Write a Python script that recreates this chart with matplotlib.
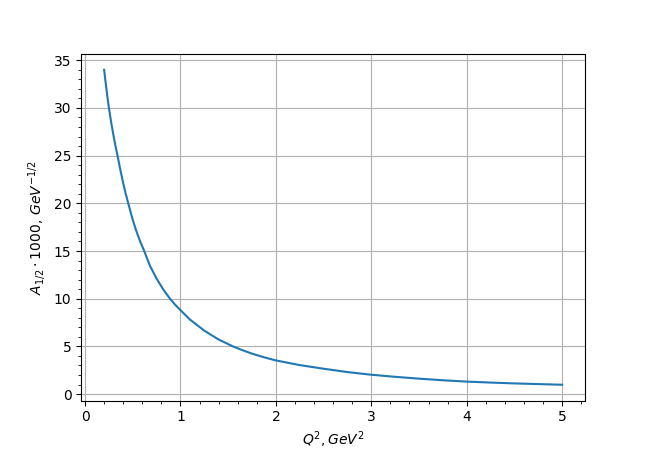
import matplotlib
matplotlib.use('Agg')
import matplotlib.pyplot as plt

# values
q2 = [0.2, 0.2125, 0.225, 0.2375, 0.25, 0.275, 0.3, 0.32, 0.34, 0.37, 0.4, 0.425,
      0.45, 0.49, 0.53, 0.575, 0.62, 0.68, 0.75, 0.82, 0.89, 0.945, 1.0, 1.1,
      1.25, 1.4, 1.55, 1.65, 1.75, 1.875, 2.0, 2.25, 2.5, 2.75, 3.0, 3.25,
      3.5, 3.75, 4.0, 4.25, 4.5, 4.75, 5.0]
a12 = [34.0, 32.9, 31.9, 30.9, 30.0, 28.4, 27.0, 25.95, 25.0, 23.5, 22.1, 21.05,
       20.1, 18.6, 17.3, 16.07, 15.0, 13.45, 12.1, 10.96, 10.0, 9.36, 8.8, 7.81,
       6.65, 5.72, 5.0, 4.6, 4.24, 3.86, 3.53, 3.04, 2.66, 2.31, 2.03, 1.81,
       1.62, 1.45, 1.31, 1.21, 1.12, 1.05, 0.98]

fig, ax = plt.subplots(figsize=(6.5, 4.5), dpi=100)
ax.plot(q2, a12)
ax.set_xlabel(r'$Q^2, GeV^2$')
ax.set_ylabel(r'$A_{1/2}\cdot1000,\, GeV^{-1/2}$')
ax.minorticks_on()
ax.grid(which='major')
fig.savefig('out.png')
